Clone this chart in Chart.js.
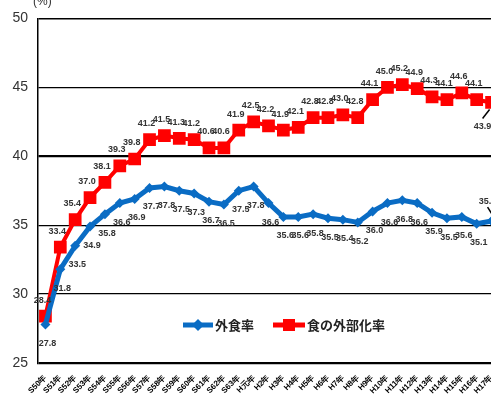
<!DOCTYPE html>
<html>
<head>
<meta charset="utf-8">
<script src="https://cdn.jsdelivr.net/npm/chart.js@4"></script>
<style>
  html, body { margin: 0; padding: 0; background: #fff; overflow: hidden; }
  #wrap { width: 508px; height: 403px; }
</style>
</head>
<body>
<div id="wrap"><canvas id="chart" width="508" height="403"></canvas></div>
<script>
// 年次 (昭和50年〜平成17年)
const years = [
    'S50年', 'S51年', 'S52年', 'S53年', 'S54年', 'S55年', 'S56年', 'S57年',
    'S58年', 'S59年', 'S60年', 'S61年', 'S62年', 'S63年', 'H元年', 'H2年',
    'H3年', 'H4年', 'H5年', 'H6年', 'H7年', 'H8年', 'H9年', 'H10年',
    'H11年', 'H12年', 'H13年', 'H14年', 'H15年', 'H16年', 'H17年'
];

// 外食率 (%)
const gaishokuRate = [
    27.8, 31.8, 33.5, 34.9, 35.8, 36.6, 36.9, 37.7, 37.8, 37.5, 37.3,
    36.7, 36.5, 37.5, 37.8, 36.6, 35.6, 35.6, 35.8, 35.5, 35.4, 35.2,
    36.0, 36.6, 36.8, 36.6, 35.9, 35.5, 35.6, 35.1, 35.3
];

// 食の外部化率 (%)
const gaibukaRate = [
    28.4, 33.4, 35.4, 37.0, 38.1, 39.3, 39.8, 41.2, 41.5, 41.3, 41.2,
    40.6, 40.6, 41.9, 42.5, 42.2, 41.9, 42.1, 42.8, 42.8, 43.0, 42.8,
    44.1, 45.0, 45.2, 44.9, 44.3, 44.1, 44.6, 44.1, 43.9
];

const yTicks = [25, 30, 35, 40, 45, 50];

const BLUE = '#0a6cc4';
const RED = '#ff0000';

// 値ラベル・凡例・単位を描く
const overlayPlugin = {
    id: 'overlay',
    afterDatasetsDraw(chart) {
        const ctx = chart.ctx;
        ctx.save();
        ctx.font = 'bold 9px "Liberation Sans", Arial, sans-serif';
        ctx.fillStyle = '#333';
        ctx.textAlign = 'center';
        ctx.textBaseline = 'middle';

        const last = years.length - 1;
        chart.data.datasets.forEach((ds, di) => {
            const meta = chart.getDatasetMeta(di);
            meta.data.forEach((pt, i) => {
                const txt = ds.data[i].toFixed(1);
                if (i === last) {
                    // 最終年は矢印付きで表示
                    const lx = di === 0 ? pt.x - 4 : pt.x - 9;
                    const ly = di === 0 ? pt.y - 20 : pt.y + 24;
                    ctx.fillText(txt, lx, ly);
                    ctx.strokeStyle = '#000';
                    ctx.lineWidth = 1.5;
                    ctx.beginPath();
                    if (di === 0) {
                        ctx.moveTo(pt.x - 4, pt.y - 14);
                        ctx.lineTo(pt.x + 1, pt.y - 6);
                    } else {
                        ctx.moveTo(pt.x - 9, pt.y + 16);
                        ctx.lineTo(pt.x - 2, pt.y + 7);
                    }
                    ctx.stroke();
                    return;
                }
                if (di === 0) {
                    ctx.fillText(txt, pt.x + 2, pt.y + 19);
                } else {
                    ctx.fillText(txt, pt.x - 3, pt.y - 16);
                }
            });
        });

        // 凡例
        const ly = 325;
        ctx.lineWidth = 5;
        ctx.strokeStyle = BLUE;
        ctx.beginPath();
        ctx.moveTo(183, ly);
        ctx.lineTo(213, ly);
        ctx.stroke();
        ctx.fillStyle = BLUE;
        ctx.beginPath();
        ctx.moveTo(198, ly - 6);
        ctx.lineTo(204, ly);
        ctx.lineTo(198, ly + 6);
        ctx.lineTo(192, ly);
        ctx.closePath();
        ctx.fill();

        ctx.strokeStyle = RED;
        ctx.beginPath();
        ctx.moveTo(273, ly);
        ctx.lineTo(305, ly);
        ctx.stroke();
        ctx.fillStyle = RED;
        ctx.fillRect(283, ly - 6, 12, 12);

        ctx.fillStyle = '#222';
        ctx.font = 'bold 13px "Noto Sans CJK JP", sans-serif';
        ctx.textAlign = 'left';
        ctx.fillText('外食率', 215, ly);
        ctx.fillText('食の外部化率', 307, ly);

        // 単位
        ctx.font = '12px "Liberation Sans", Arial, sans-serif';
        ctx.fillStyle = '#333';
        ctx.fillText('(%)', 33, 2);
        ctx.restore();
    }
};

new Chart(document.getElementById('chart'), {
    type: 'line',
    data: {
        labels: years,
        datasets: [
            {
                label: '外食率',
                data: gaishokuRate,
                borderColor: BLUE,
                backgroundColor: BLUE,
                borderWidth: 5,
                pointStyle: 'rectRot',
                pointRadius: 5,
                pointBorderWidth: 0,
                tension: 0
            },
            {
                label: '食の外部化率',
                data: gaibukaRate,
                borderColor: RED,
                backgroundColor: RED,
                borderWidth: 4,
                pointStyle: 'rect',
                pointRadius: 9,
                pointBorderWidth: 0,
                tension: 0
            }
        ]
    },
    options: {
        responsive: false,
        animation: false,
        layout: { padding: { top: 13, left: 0, right: 0, bottom: 0 } },
        plugins: {
            legend: { display: false },
            tooltip: { enabled: false }
        },
        scales: {
            x: {
                offset: true,
                afterFit: s => { s.height = 40; },
                grid: { display: false },
                border: { display: false },
                ticks: {
                    autoSkip: false,
                    minRotation: 45,
                    maxRotation: 45,
                    padding: 2,
                    color: '#000',
                    font: { size: 8, weight: 'bold', family: '"Liberation Sans", Arial, sans-serif' }
                }
            },
            y: {
                min: 25,
                max: 50,
                afterFit: s => { s.width = 38; },
                afterBuildTicks: s => { s.ticks = yTicks.map(v => ({ value: v })); },
                grid: {
                    color: '#000',
                    drawTicks: false,
                    lineWidth: c => (c.tick.value === 40 || c.tick.value === 25) ? 2.2 : (c.tick.value === 50 ? 1.6 : 1.2)
                },
                border: { display: true, color: '#000', width: 1.5 },
                ticks: {
                    padding: 10,
                    color: '#333',
                    font: { size: 14, family: '"Liberation Sans", Arial, sans-serif' }
                }
            }
        }
    },
    plugins: [overlayPlugin]
});
</script>
</body>
</html>
